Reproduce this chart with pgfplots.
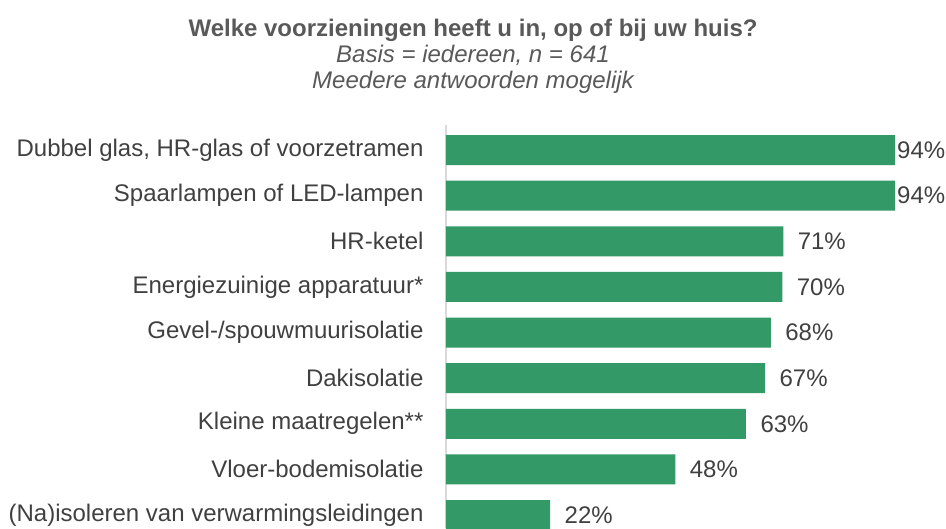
\documentclass[border=0pt]{standalone}
\usepackage{pgfplots}
\pgfplotsset{compat=1.18}
\usepackage{fontspec}
\setmainfont{Liberation Sans}
\definecolor{barc}{RGB}{51,153,103}
\definecolor{lab}{RGB}{64,64,64}
\definecolor{ttl}{RGB}{89,89,89}
\definecolor{axl}{RGB}{217,217,217}
\begin{document}
\begin{tikzpicture}[x=1pt,y=1pt]
\path[use as bounding box] (0,0) rectangle (946,-528);
\node[font=\fontsize{24}{28}\selectfont\bfseries, text=ttl] at (473,-30) {Welke voorzieningen heeft u in, op of bij uw huis?};
\node[font=\fontsize{24}{28}\selectfont\itshape, text=ttl] at (473,-55) {Basis = iedereen, n = 641};
\node[font=\fontsize{24}{28}\selectfont\itshape, text=ttl] at (473,-82) {Meedere antwoorden mogelijk};
\begin{axis}[
  at={(446pt,-125pt)}, anchor=north west,
  scale only axis, width=477.7pt, height=403pt,
  xmin=0, xmax=100, ymin=-0.548, ymax=8.285, y dir=reverse,
  xbar, bar width=30pt, bar shift=0pt,
  axis x line=none, axis y line*=left,
  y axis line style={draw=axl, line width=1.5pt},
  ytick={0,...,8},
  yticklabels={{Dubbel glas, HR-glas of voorzetramen},{Spaarlampen of LED-lampen},{HR-ketel},{Energiezuinige apparatuur*},{Gevel-/spouwmuurisolatie},{Dakisolatie},{Kleine maatregelen**},{Vloer-bodemisolatie},{(Na)isoleren van verwarmingsleidingen}},
  major tick length=0pt,
  yticklabel style={font=\fontsize{24}{28}\selectfont, text=lab, xshift=-19pt},
  /pgf/number format/assume math mode=true,
  /pgf/number format/fixed, /pgf/number format/precision=0,
  nodes near coords={\pgfmathprintnumber{\pgfplotspointmeta}\%},
  every node near coord/.append style={font=\fontsize{24}{28}\selectfont, text=lab, anchor=west},
]
\addplot[fill=barc, draw=none, nodes near coords style={inner sep=0pt, xshift=2pt}] coordinates {(94,0) (94,1)};
\addplot[fill=barc, draw=none, nodes near coords style={xshift=11pt}] coordinates {(70.6,2) (70.4,3) (68,4) (66.8,5) (62.8,6) (48,7) (21.8,8)};
\end{axis}
\end{tikzpicture}
\end{document}
